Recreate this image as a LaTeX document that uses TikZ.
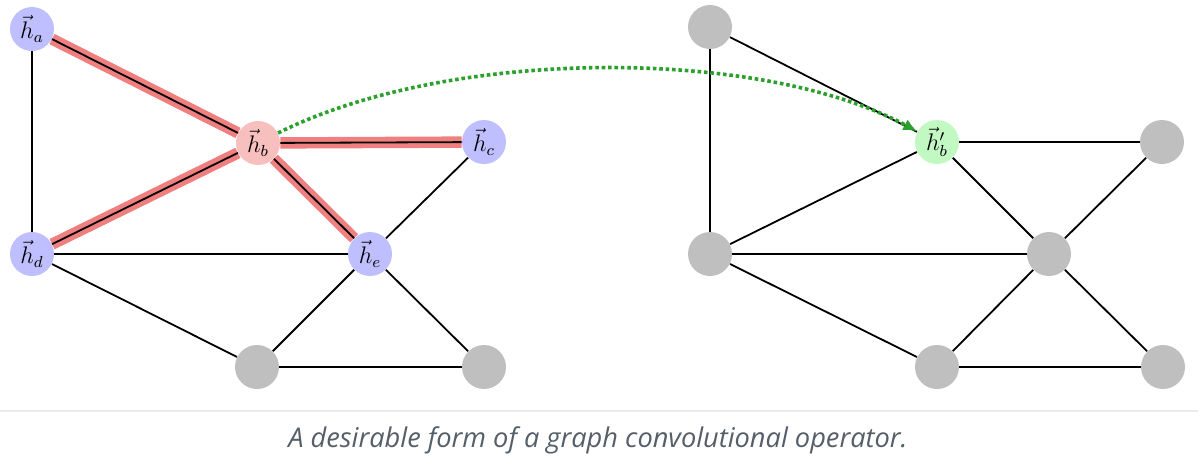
\documentclass[tikz,border=0pt]{standalone}
\usepackage{amsmath}
\usepackage{fontspec}
\newfontfamily\captionfont{Open Sans}
\usepackage{tikz}
\usetikzlibrary{arrows.meta}
\usetikzlibrary{backgrounds}
\definecolor{nodeblue}{RGB}{191,191,255}
\definecolor{nodered}{RGB}{248,191,191}
\definecolor{nodegreen}{RGB}{194,248,194}
\definecolor{nodegray}{RGB}{191,191,191}
\definecolor{highlightededgecolor}{RGB}{240,128,128}
\definecolor{arrowgreen}{RGB}{44,160,44}
\definecolor{captiongray}{RGB}{85,95,105}
\definecolor{rulegray}{RGB}{236,236,236}
\tikzset{
  vertex/.style={circle, minimum size=22pt, inner sep=0pt, font=\large},
  norm/.style={draw, black, line width=0.9pt},
  emph/.style={draw=highlightededgecolor, line width=2.4pt, double=black, double distance=0.9pt},
}

\begin{document}
\begin{tikzpicture}[x=0.5pt, y=-0.5pt]
            \useasboundingbox (0,0) rectangle (1198,463);

            % Nodes (input graph)
            \node[vertex, fill=nodeblue] (ha) at (32, 29) {$\vec{h}_a$};
            \node[vertex, fill=nodered] (hb) at (258, 143) {$\vec{h}_b$};
            \node[vertex, fill=nodeblue] (hc) at (484, 142) {$\vec{h}_c$};
            \node[vertex, fill=nodeblue] (hd) at (32, 254) {$\vec{h}_d$};
            \node[vertex, fill=nodeblue] (he) at (370, 254) {$\vec{h}_e$};
            \node[vertex, fill=nodegray] (lf) at (257, 367) {};
            \node[vertex, fill=nodegray] (lg) at (484, 367) {};

            % Nodes (output graph)
            \node[vertex, fill=nodegray] (ra) at (710, 27) {};
            \node[vertex, fill=nodegreen] (hbp) at (937, 142) {$\vec{h}'_b$};
            \node[vertex, fill=nodegray] (rc) at (1162, 142) {};
            \node[vertex, fill=nodegray] (rd) at (710, 254) {};
            \node[vertex, fill=nodegray] (re) at (1049, 254) {};
            \node[vertex, fill=nodegray] (rf) at (937, 367) {};
            \node[vertex, fill=nodegray] (rg) at (1163, 367) {};

            \begin{scope}[on background layer]
            % Connecting lines (input graph)
            \draw[emph] (ha) -- (hb);
            \draw[emph] (hb) -- (hc);
            \draw[emph] (hb) -- (hd);
            \draw[emph] (hb) -- (he);
            \draw[norm] (ha) -- (hd);
            \draw[norm] (hc) -- (he);
            \draw[norm] (hd) -- (he);
            \draw[norm] (hd) -- (lf);
            \draw[norm] (he) -- (lf);
            \draw[norm] (he) -- (lg);
            \draw[norm] (lf) -- (lg);

            % Connecting lines (output graph)
            \draw[norm] (ra) -- (hbp);
            \draw[norm] (hbp) -- (rc);
            \draw[norm] (hbp) -- (rd);
            \draw[norm] (hbp) -- (re);
            \draw[norm] (ra) -- (rd);
            \draw[norm] (rc) -- (re);
            \draw[norm] (rd) -- (re);
            \draw[norm] (rd) -- (rf);
            \draw[norm] (re) -- (rf);
            \draw[norm] (re) -- (rg);
            \draw[norm] (rf) -- (rg);
            \end{scope}

            % Update arrow
            \draw[arrowgreen, line width=1.8pt, dash pattern=on 1.8pt off 1.4pt, -{Latex[length=7pt, width=6pt]}]
                (hb) .. controls (450, 47) and (760, 47) .. (hbp);

            % Caption
            \draw[rulegray, line width=1pt] (0, 411) -- (1198, 411);
            \node[font=\captionfont\itshape\fontsize{13.6}{16}\selectfont, text=captiongray] (caption) at (598, 440) {A desirable form of a graph convolutional operator.};
        \end{tikzpicture}
\end{document}
